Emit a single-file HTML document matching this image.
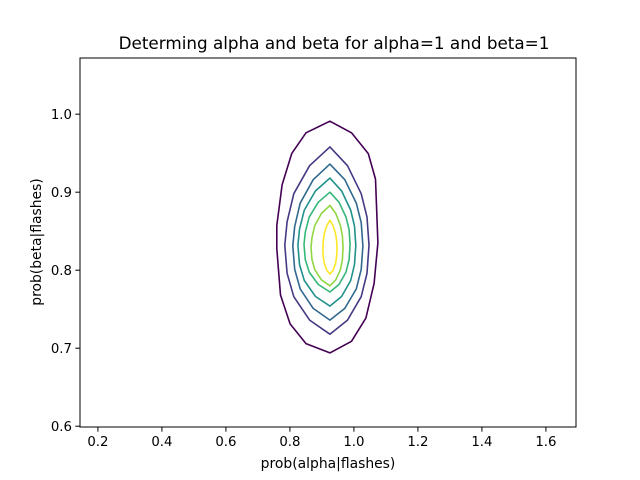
<!DOCTYPE html>
<html><head><meta charset="utf-8"><style>
body{margin:0;background:#fff}
svg{display:block;font-family:"DejaVu Sans","Liberation Sans",sans-serif}
</style></head><body>
<svg id="chart" width="640" height="480" viewBox="0 0 640 480">
<rect x="0" y="0" width="640" height="480" fill="#fff"/>
<text x="334" y="49" font-size="16.8" text-anchor="middle">Determing alpha and beta for alpha=1 and beta=1</text>
<g id="contours"></g>
<rect x="80" y="58" width="496" height="369" fill="none" stroke="#000" stroke-width="1"/>
<g id="xticks"></g>
<g id="yticks"></g>
<text x="328" y="468" font-size="13.9" text-anchor="middle">prob(alpha|flashes)</text>
<text transform="translate(41,242) rotate(-90)" font-size="13.9" text-anchor="middle">prob(beta|flashes)</text>
</svg>
<script>
const xTicks = [0.2,0.4,0.6,0.8,1.0,1.2,1.4,1.6];
const yTicks = [0.6,0.7,0.8,0.9,1.0];
const levelColors = ["#440154","#443983","#31688e","#21918c","#35b779","#90d743","#fde725"];
const levelLeft   = [0.759,0.784,0.809,0.825,0.844,0.866,0.903];
const levelRight  = [1.075,1.047,1.028,1.006,0.988,0.966,0.947];
const levelTop    = [0.991,0.958,0.936,0.918,0.900,0.883,0.864];
const levelBottom = [0.694,0.718,0.736,0.754,0.772,0.780,0.795];
const levelApexX  = [0.925,0.925,0.925,0.925,0.925,0.925,0.925];

const X0=80,X1=576,Y0=58,Y1=427;
const xMin=0.144,xMax=1.694,yMin=0.599,yMax=1.072;
function sx(v){return X0+(v-xMin)/(xMax-xMin)*(X1-X0);}
function sy(v){return Y1-(v-yMin)/(yMax-yMin)*(Y1-Y0);}
const NS="http://www.w3.org/2000/svg";
const shapeOuter=[[0,1],[-0.45,0.9],[-0.72,0.72],[-0.9,0.45],[-1,0.1],[-1,-0.1],[-0.93,-0.5],[-0.75,-0.75],[-0.45,-0.92],[0,-1],[0.45,-0.9],[0.75,-0.7],[0.92,-0.4],[1,-0.05],[0.95,0.5],[0.8,0.72],[0.45,0.9]];
const shapeInner=[[0,1],[-0.45,0.8],[-0.8,0.5],[-0.95,0.2],[-1,-0.05],[-0.95,-0.35],[-0.8,-0.6],[-0.45,-0.85],[0,-1],[0.45,-0.85],[0.8,-0.6],[0.95,-0.35],[1,-0.05],[0.95,0.25],[0.8,0.5],[0.45,0.8]];
const cg=document.getElementById('contours');
levelColors.forEach((c,i)=>{
  const l=levelLeft[i],r=levelRight[i],t=levelTop[i],b=levelBottom[i],ax=levelApexX[i];
  const cy=(t+b)/2,hy=(t-b)/2;
  const shape=i===0?shapeOuter:shapeInner;
  const pts=shape.map(([u,v])=>{
    const hx=u<0?(ax-l):(r-ax);
    return sx(ax+u*hx).toFixed(1)+","+sy(cy+v*hy).toFixed(1);
  });
  const p=document.createElementNS(NS,'polygon');
  p.setAttribute('points',pts.join(' '));
  p.setAttribute('fill','none');p.setAttribute('stroke',c);p.setAttribute('stroke-width','1.6');
  p.setAttribute('stroke-linejoin','round');
  
  
  cg.appendChild(p);
});
const xg=document.getElementById('xticks');
xTicks.forEach(v=>{
  const x=sx(v);
  const l=document.createElementNS(NS,'line');
  l.setAttribute('x1',x);l.setAttribute('x2',x);l.setAttribute('y1',Y1);l.setAttribute('y2',Y1+4.7);l.setAttribute('stroke','#000');
  
  
  xg.appendChild(l);
  const t=document.createElementNS(NS,'text');
  t.setAttribute('x',x);t.setAttribute('y',Y1+19);t.setAttribute('font-size','13.3');t.setAttribute('text-anchor','middle');
  t.textContent=v.toFixed(1);
  
  
  xg.appendChild(t);
});
const yg=document.getElementById('yticks');
yTicks.forEach(v=>{
  const y=sy(v);
  const l=document.createElementNS(NS,'line');
  l.setAttribute('x1',X0-4.7);l.setAttribute('x2',X0);l.setAttribute('y1',y);l.setAttribute('y2',y);l.setAttribute('stroke','#000');
  
  
  yg.appendChild(l);
  const t=document.createElementNS(NS,'text');
  t.setAttribute('x',X0-8);t.setAttribute('y',y+4.8);t.setAttribute('font-size','13.3');t.setAttribute('text-anchor','end');
  t.textContent=v.toFixed(1);
  
  
  yg.appendChild(t);
});
</script>
</body></html>
